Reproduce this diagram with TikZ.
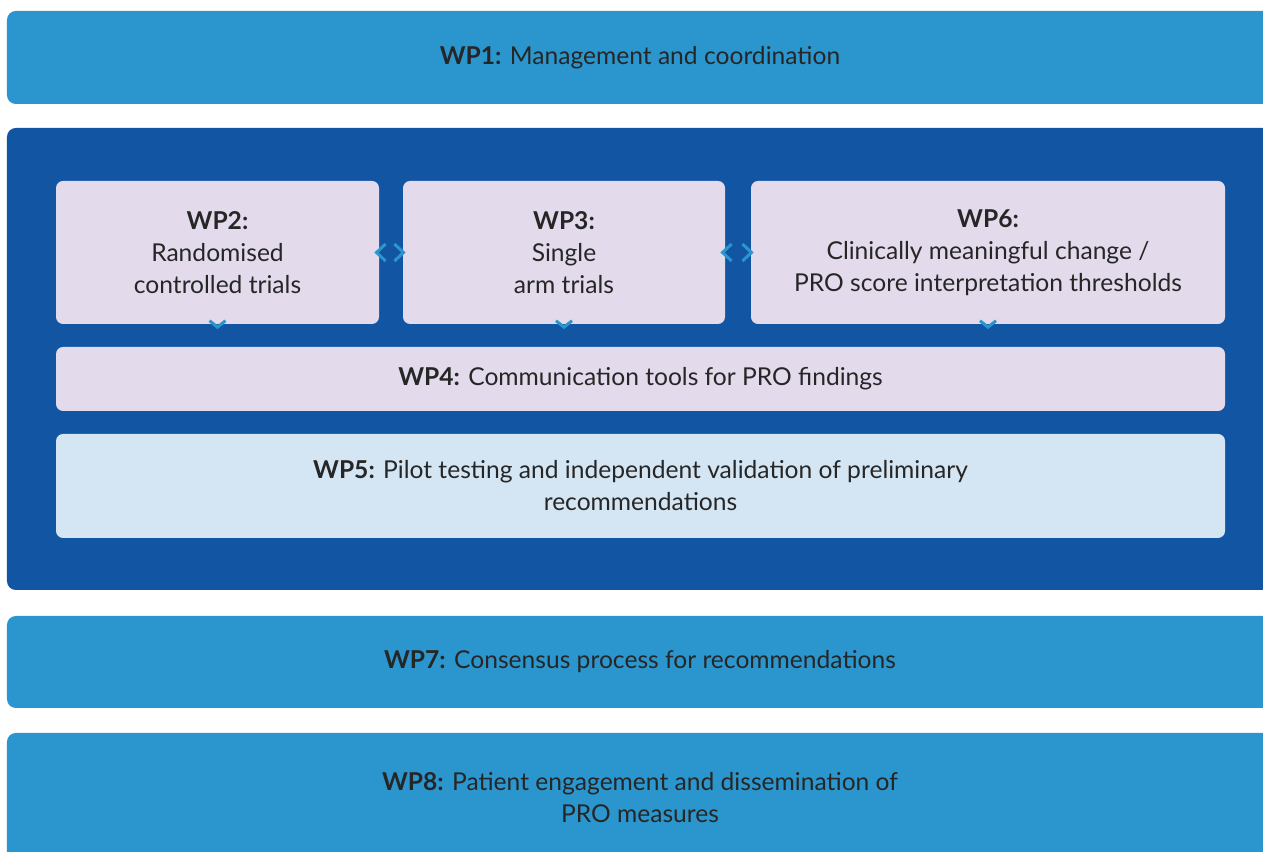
\documentclass[tikz,border=0pt]{standalone}
\usepackage{fontspec}
\setmainfont{Lato}
\usepackage{xcolor}
\usepackage{tikz}
\usetikzlibrary{arrows.meta, calc, positioning}
\definecolor{wpbar}{HTML}{2B96CE}
\definecolor{wpframe}{HTML}{1255A2}
\definecolor{wplav}{HTML}{E3DAEC}
\definecolor{wplight}{HTML}{D4E6F4}
\definecolor{wptext}{HTML}{262626}

\begin{document}
\begin{tikzpicture}[
  wpfont/.style  = {font=\fontsize{14}{18.2}\selectfont, text=wptext, align=center},
  barbox/.style  = {wpfont, fill=wpbar, rounded corners=5pt, minimum width=25.32cm, inner sep=0pt},
  frame/.style   = {fill=wpframe, rounded corners=5pt, minimum width=25.32cm, minimum height=9.24cm},
  taskbox/.style = {wpfont, fill=wplav, rounded corners=4pt, minimum height=2.86cm, inner sep=0pt},
  hlink/.style   = {draw=wpframe, line width=0.4pt,
                    {Straight Barb[length=1.8mm, width=3.4mm, line width=0.6mm, color=wpbar]}-{Straight Barb[length=1.8mm, width=3.4mm, line width=0.6mm, color=wpbar]}},
  vlink/.style   = {draw=wpframe, line width=0.4pt, shorten >=3.5mm,
                    -{Straight Barb[length=1.3mm, width=3.2mm, line width=0.6mm, color=wpbar]}},
]
\useasboundingbox (0,0) rectangle (25.26,17.04);
\fill[white] (0,0) rectangle (25.26,17.04);
\clip (0,0) rectangle (25.26,17.04);

\node[barbox, minimum height=1.86cm] (wp1) at (12.80, 15.89) {\textbf{WP1:} Management and coordination};
\node[frame] (core) at (12.80, 9.86) {};
\node[taskbox, minimum width=6.46cm] (wp2) at (4.35, 11.99) {\textbf{WP2:}\\Randomised\\controlled trials};
\node[taskbox, minimum width=6.44cm] (wp3) at (11.28, 11.99) {\textbf{WP3:}\\Single\\arm trials};
\node[taskbox, minimum width=9.48cm] (wp6) at (19.76, 11.99) {\textbf{WP6:}\\Clinically meaningful change /\\PRO score interpretation thresholds};
\node[taskbox, minimum width=23.38cm, minimum height=1.28cm] (wp4) at (12.81, 9.46) {\textbf{WP4:} Communication tools for PRO findings};
\node[taskbox, fill=wplight, minimum width=23.38cm, minimum height=2.08cm] (wp5) at (12.81, 7.32) {\textbf{WP5:} Pilot testing and independent validation of preliminary\\recommendations};
\node[barbox, minimum height=1.84cm] (wp7) at (12.80, 3.80) {\textbf{WP7:} Consensus process for recommendations};
\node[barbox, minimum height=2.58cm] (wp8) at (12.80, 1.09) {\textbf{WP8:} Patient engagement and dissemination of\\PRO measures};

% links between the trial packages
\draw[hlink, shorten <=-1mm, shorten >=-0.6mm] (wp2.east) -- (wp3.west);
\draw[hlink, shorten <=-1mm, shorten >=-0.6mm] (wp3.east) -- (wp6.west);
% feeding into WP4
\draw[vlink] (wp2.south) -- (wp2.south |- wp4.north);
\draw[vlink] (wp3.south) -- (wp3.south |- wp4.north);
\draw[vlink] (wp6.south) -- (wp6.south |- wp4.north);
\end{tikzpicture}
\end{document}
